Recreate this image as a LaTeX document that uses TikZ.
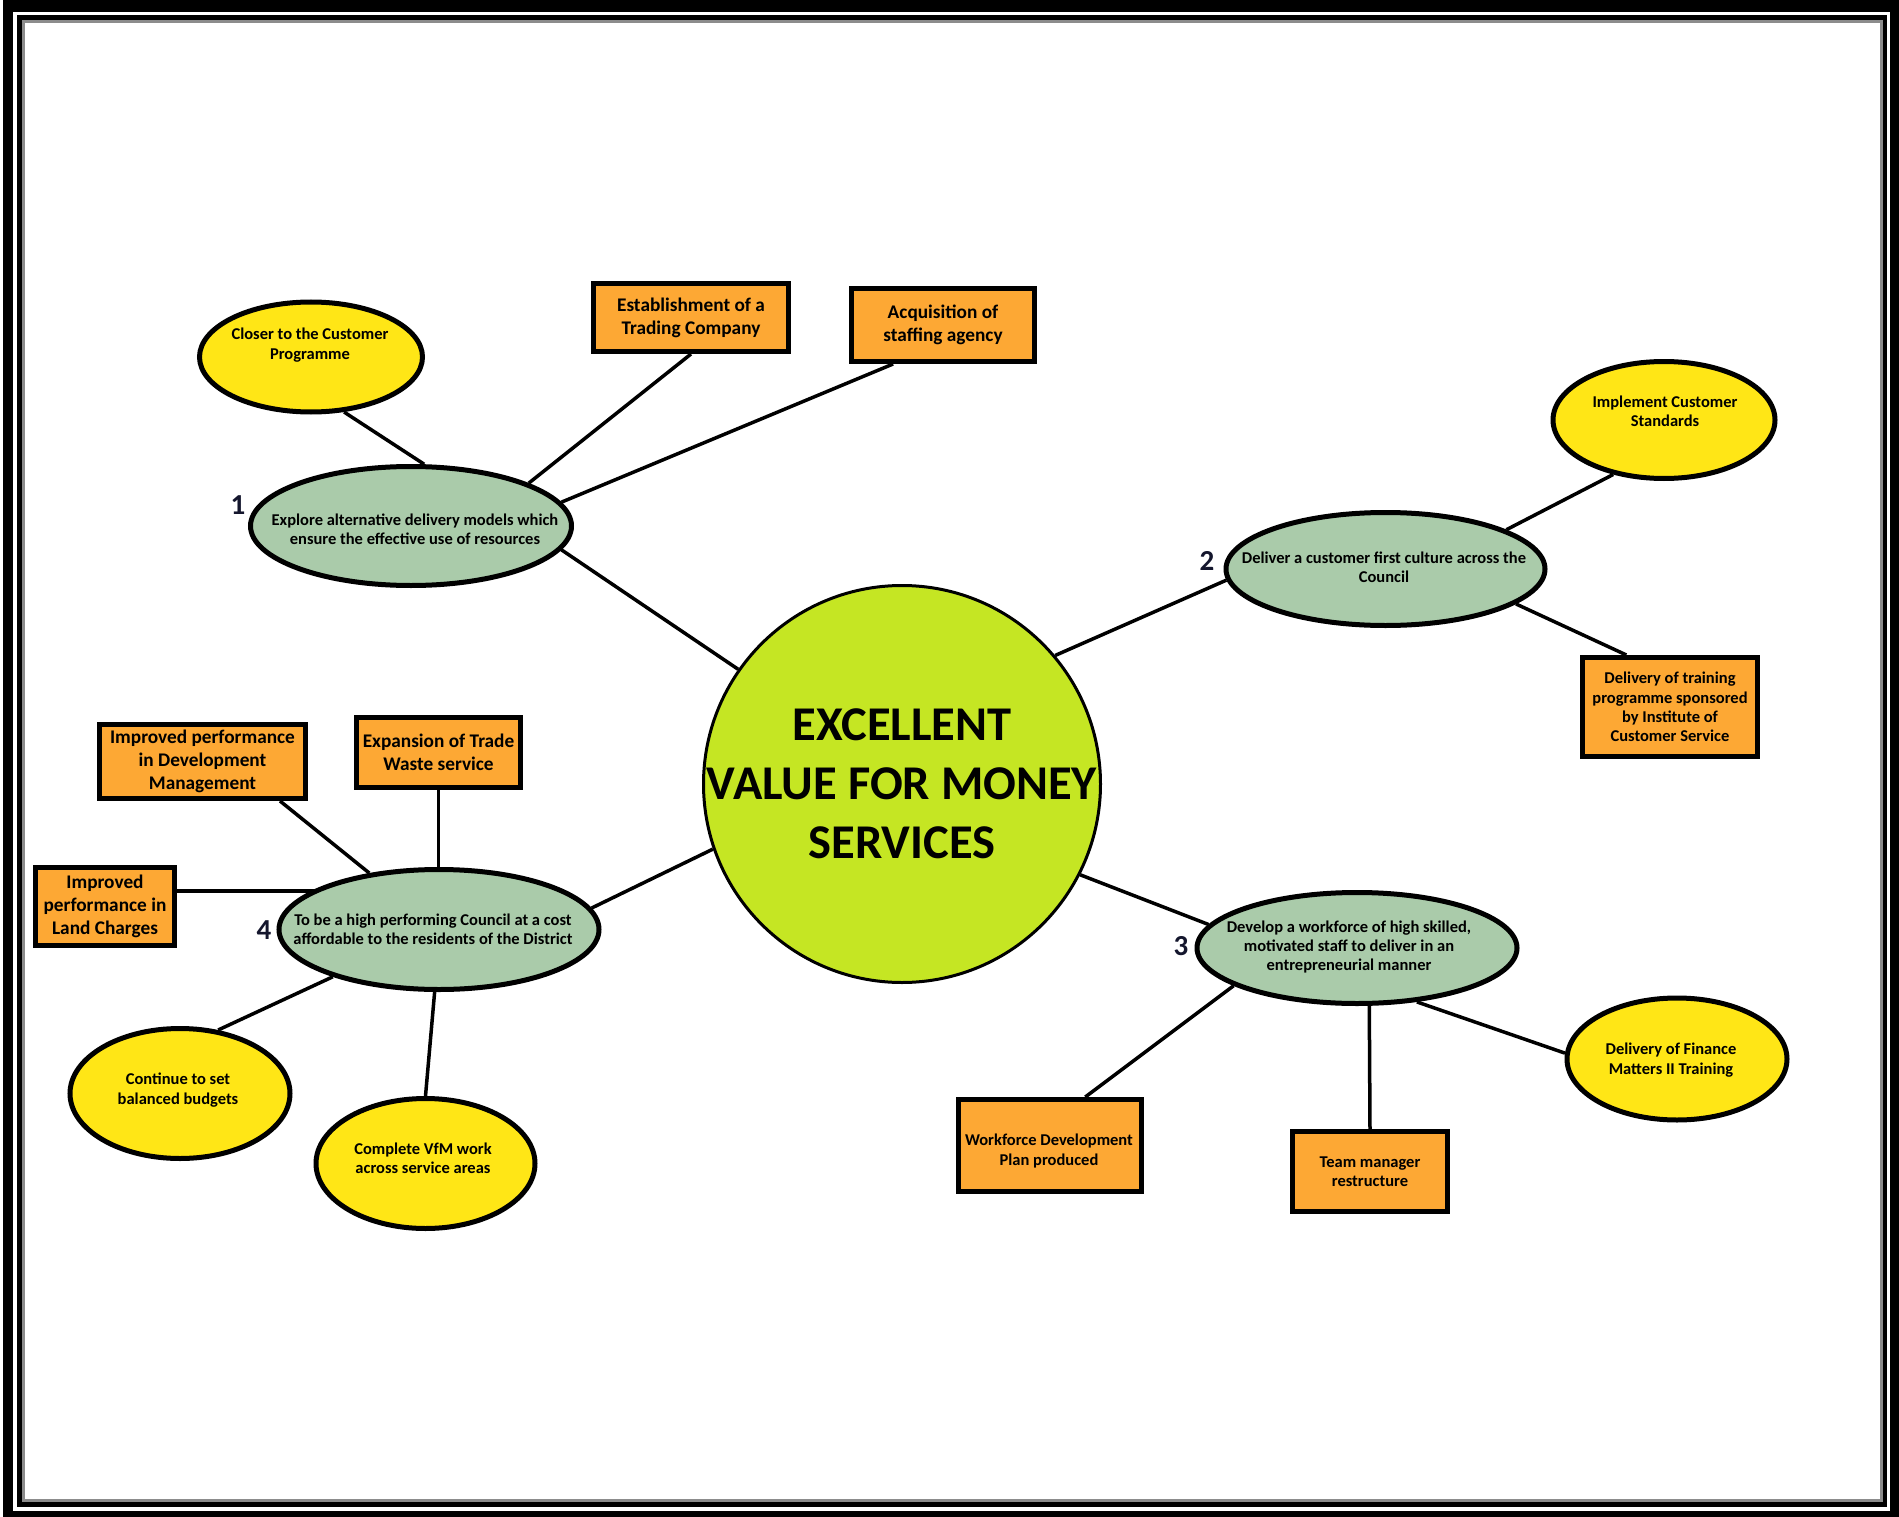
\documentclass[tikz,border=0pt]{standalone}
\usepackage{fontspec}
\setmainfont{Carlito}
\usetikzlibrary{shapes.geometric,calc}
\definecolor{limeC}{RGB}{197,230,35}
\definecolor{greenC}{RGB}{170,203,170}
\definecolor{yellowC}{RGB}{255,230,22}
\definecolor{orangeC}{RGB}{253,168,52}
\definecolor{numC}{RGB}{20,22,45}
\tikzset{
  ell/.style={ellipse, draw, line width=5pt, inner sep=0pt},
  goal/.style={ell, fill=greenC},
  act/.style={ell, fill=yellowC},
  box/.style={rectangle, draw, line width=5pt, fill=orangeC, inner sep=0pt, align=center},
  conn/.style={line width=3.5pt},
  smalltxt/.style={align=center, inner sep=0pt, font=\fontsize{16.5}{19.3}\selectfont\bfseries},
  bigtxt/.style={font=\fontsize{19.3}{22.8}\selectfont\bfseries},
  numtxt/.style={inner sep=0pt, text=numC, font=\fontsize{29}{30}\selectfont\bfseries},
  titletxt/.style={align=center, inner sep=0pt, font=\fontsize{48.5}{59}\selectfont\bfseries}
}
\begin{document}
\begin{tikzpicture}[x=1pt,y=-1pt]
\useasboundingbox (0,0) rectangle (1899,1517);
% frame
\fill[black] (3,0) rectangle (1899,1517);
\fill[white] (13,12) rectangle (1890,1511);
\fill[black] (17,15) rectangle (1887,1507);
\fill[black!45] (22,20) rectangle (1883,1502);
\fill[white] (25,23) rectangle (1880,1499);

% centre
\node[circle, draw, line width=3pt, fill=limeC, minimum size=397pt, inner sep=0pt] (c) at (902,784) {};
\node[titletxt] (ct) at (902,784) {EXCELLENT\\VALUE FOR MONEY\\SERVICES};

% cluster 1
\node[goal, minimum width=321pt, minimum height=119pt] (e1) at (411,526) {};
\node[smalltxt] (e1t) at (415,529) {Explore alternative delivery models which\\ensure the effective use of resources};
\node[numtxt] (n1) at (238,505) {1};
\node[act, minimum width=223pt, minimum height=110pt] (closer) at (311,357) {};
\node[smalltxt] (closert) at (310,345) {Closer to the Customer\\Programme};
\node[box, bigtxt, minimum width=195pt, minimum height=68pt] (est) at (691,317.5) {Establishment of a\\Trading Company};
\node[box, bigtxt, minimum width=183pt, minimum height=73pt] (acq) at (943,325) {Acquisition of\\staffing agency};

% cluster 2
\node[goal, minimum width=319pt, minimum height=113pt] (e2) at (1385.5,569) {};
\node[smalltxt] (e2t) at (1384,567) {Deliver a customer first culture across the\\Council};
\node[numtxt] (n2) at (1207,561) {2};
\node[act, minimum width=222pt, minimum height=117pt] (impl) at (1664,420) {};
\node[smalltxt] (implt) at (1665,411) {Implement Customer\\Standards};
\node[box, smalltxt, minimum width=175pt, minimum height=99pt] (dtr) at (1670,707) {Delivery of training\\programme sponsored\\by Institute of\\Customer Service};

% cluster 3
\node[goal, minimum width=320pt, minimum height=111pt] (e3) at (1357,948) {};
\node[smalltxt] (e3t) at (1349,947) {Develop a workforce of high skilled,\\motivated staff to deliver in an\\entrepreneurial manner};
\node[numtxt] (n3) at (1181,946) {3};
\node[act, minimum width=220pt, minimum height=122pt] (fin) at (1677,1059) {};
\node[smalltxt] (fint) at (1671,1060) {Delivery of Finance\\Matters II Training};
\node[box, minimum width=183pt, minimum height=92pt] (wdp) at (1050,1145.5) {};
\node[smalltxt] (wdpt) at (1049,1151) {Workforce Development\\Plan produced};
\node[box, smalltxt, minimum width=155pt, minimum height=80pt] (team) at (1370,1171.5) {Team manager\\restructure};

% cluster 4
\node[goal, minimum width=320pt, minimum height=120pt] (e4) at (439,929.5) {};
\node[smalltxt] (e4t) at (433,929) {To be a high performing Council at a cost\\affordable to the residents of the District};
\node[numtxt] (n4) at (264,930) {4};
\node[box, bigtxt, minimum width=206pt, minimum height=74pt] (dev) at (202.5,761.5) {Improved performance\\in Development\\Management};
\node[box, bigtxt, minimum width=164pt, minimum height=70pt] (exp) at (438.5,752.5) {Expansion of Trade\\Waste service};
\node[box, bigtxt, minimum width=139pt, minimum height=78pt] (land) at (105,906.5) {Improved\\performance in\\Land Charges};
\node[act, minimum width=220pt, minimum height=130pt] (cont) at (180,1093.5) {};
\node[smalltxt] (contt) at (178,1090) {Continue to set\\balanced budgets};
\node[act, minimum width=219pt, minimum height=130pt] (vfm) at (425.5,1163.5) {};
\node[smalltxt] (vfmt) at (423,1158) {Complete VfM work\\across service areas};

% connectors
\draw[conn] (closer.301.6) -- (e1.78.9);
\draw[conn] (est.south) -- (e1.20.6);
\draw[conn] (acq.218) -- (e1.9.7);
\draw[conn] (e1.351.1) -- (c.145.3);
\draw[conn] (c.40.5) -- (e2.184.3);
\draw[conn] (e2.18.5) -- (impl.227.3);
\draw[conn] (e2.345.1) -- (dtr.130.9);
\draw[conn] (c.333.2) -- (e3.171.7);
\draw[conn] (e3.197.5) -- (wdp.54.2);
\draw[conn] (e3.282.8) -- (team.north);
\draw[conn] (e3.318.6) -- (fin.177.9);
\draw[conn] (c.199.2) -- (e4.8.7);
\draw[conn] (e4.141.3) -- (dev.333.3);
\draw[conn] (exp.south) -- (exp.south |- e4.north);
\draw[conn] (land.12.9) -- (land.12.9 -| e4.161.8);
\draw[conn] (e4.204.9) -- (cont.59.5);
\draw[conn] (e4.266.3) -- (vfm.90);
\end{tikzpicture}
\end{document}
